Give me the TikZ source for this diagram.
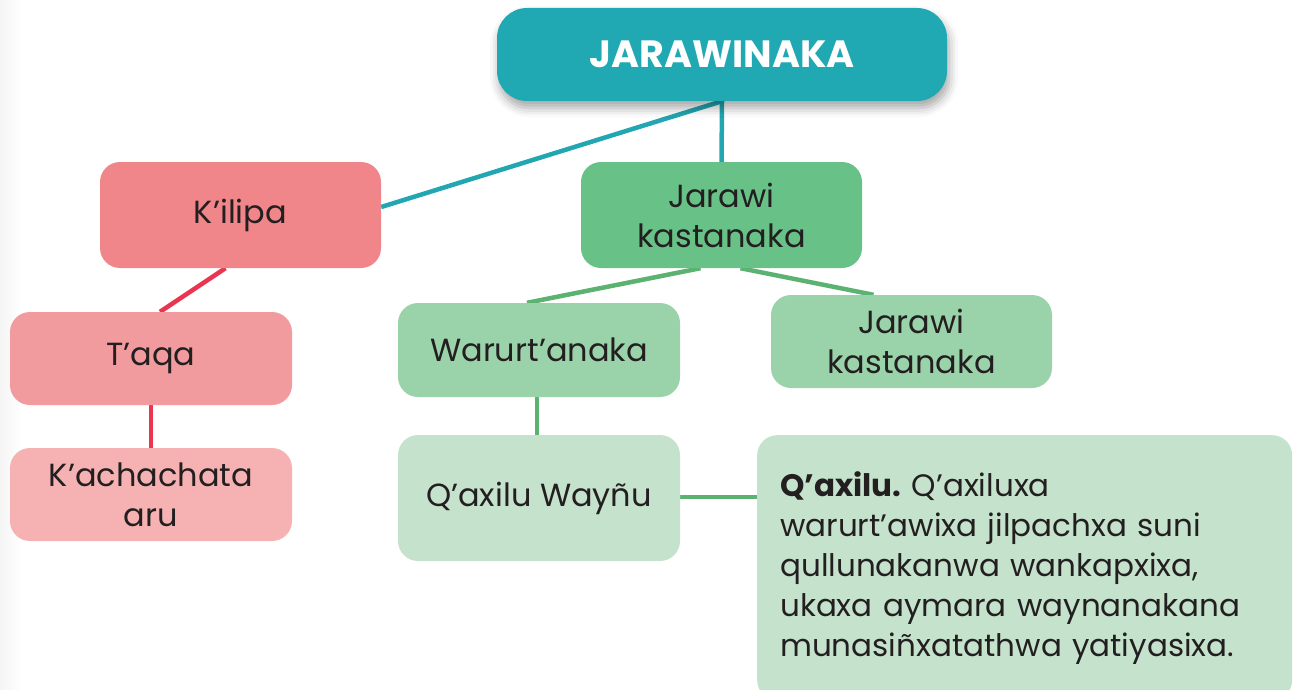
\documentclass[tikz,border=0pt]{standalone}
\usepackage{fontspec}
\setmainfont{Poppins}
\usetikzlibrary{backgrounds,shadows.blur}

\definecolor{tealbox}{HTML}{20A8B3}
\definecolor{tealline}{HTML}{21A6B2}
\definecolor{redA}{HTML}{F0868A}
\definecolor{redB}{HTML}{F29B9E}
\definecolor{redC}{HTML}{F6B2B2}
\definecolor{redline}{HTML}{E9354F}
\definecolor{greenA}{HTML}{68C186}
\definecolor{greenB}{HTML}{9AD3AA}
\definecolor{greenC}{HTML}{C5E3CC}
\definecolor{greenline}{HTML}{5CB271}
\definecolor{txt}{HTML}{231F20}

\tikzset{
  box/.style={rounded corners=20pt, minimum width=282pt, minimum height=94pt,
    align=center, text=txt, inner sep=0pt,
    font=\fontsize{32}{40}\selectfont},
  link/.style={line width=4.5pt},
}

\begin{document}
\frenchspacing
\begin{tikzpicture}[x=1pt,y=-1pt]
  \useasboundingbox (0,0) rectangle (1293,690);

  \node[box, fill=tealbox, text=white, minimum width=450pt, minimum height=93pt,
        rounded corners=30pt, font=\fontsize{38}{40}\selectfont\bfseries,
        blur shadow={shadow xshift=2pt, shadow yshift=-7pt, shadow blur radius=9pt, shadow opacity=35}]
        (top) at (722,54.5) {JARAWINAKA};

  \node[box, fill=redA, minimum width=281pt, minimum height=106pt] (kilipa) at (240.5,215) {K’ilipa};
  \node[box, fill=redB, minimum height=93pt] (taqa) at (151,358.5) {T’aqa};
  \node[box, fill=redC, minimum height=93pt] (kach) at (151,494.5) {K’achachata\\aru};

  \node[box, fill=greenA, minimum width=281pt, minimum height=106pt] (jarawi) at (721.5,215) {Jarawi\\kastanaka};
  \node[box, fill=greenB] (warurt) at (539,350) {Warurt’anaka};
  \node[box, fill=greenB, minimum width=281pt, minimum height=93pt] (jarawib) at (911.5,341.5) {Jarawi\\kastanaka};
  \node[box, fill=greenC, minimum height=126pt] (qaxilu) at (539,498) {Q’axilu Wayñu};

  \node[box, fill=greenC, anchor=north west, minimum width=535pt, minimum height=265pt,
        text width=489pt, align=left, inner xsep=23pt, font=\fontsize{31}{40}\selectfont]
        (desc) at (757,435) {\textbf{Q’axilu.} Q’axiluxa\\warurt’awixa jilpachxa suni\\qullunakanwa wankapxixa,\\ukaxa aymara waynanakana\\munasiñxatathwa yatiyasixa.};

  \begin{scope}[on background layer]
    \shade[left color=black!4, right color=white] (0,0) rectangle (22,690);
    \draw[link, tealline] (top.south) -- ([yshift=8pt]kilipa.east);
    \draw[link, tealline] (top.south) -- (jarawi.north);
    \draw[link, redline] ([xshift=-15pt]kilipa.south) -- ([xshift=9pt]taqa.north);
    \draw[link, redline] (taqa.south) -- (kach.north);
    \draw[link, greenline] ([xshift=-21pt]jarawi.south) -- ([xshift=-12pt]warurt.north);
    \draw[link, greenline] ([xshift=19pt]jarawi.south) -- ([xshift=-38pt]jarawib.north);
    \draw[link, greenline] ([xshift=-2pt]warurt.south) -- ([xshift=-2pt]qaxilu.north);
    \draw[link, greenline] ([yshift=1pt]qaxilu.east) -- ([yshift=1pt]qaxilu.east -| desc.west);
  \end{scope}
\end{tikzpicture}
\end{document}
